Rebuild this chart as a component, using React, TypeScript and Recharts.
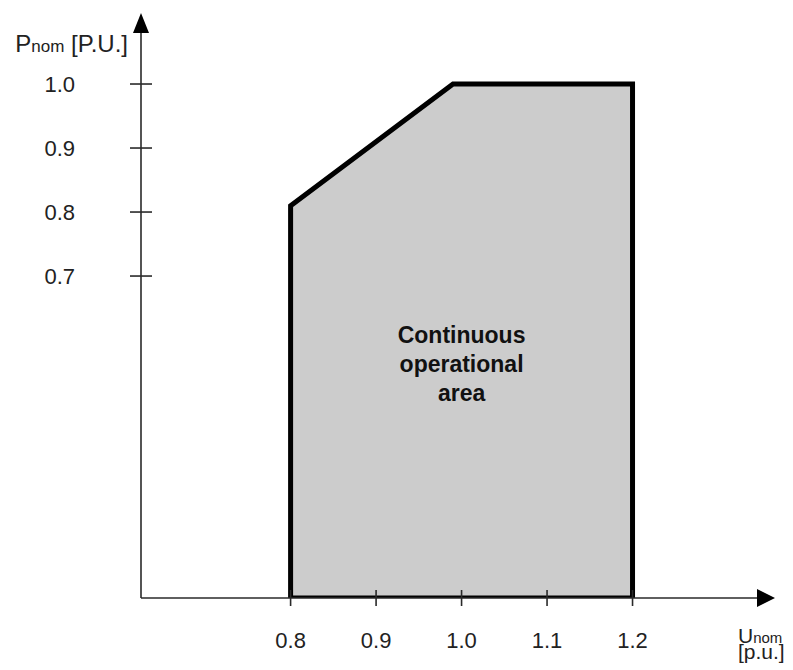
import React from 'react';
import { ComposedChart, Area, Line, XAxis, YAxis, ReferenceDot } from 'recharts';

// Axis ranges (per-unit)
const U_MIN = 0.625;
const U_MAX = 1.3456;
const P_MIN = 0.197;
const P_MAX = 1.0797;

// Tick labels
const uTicks = [0.8, 0.9, 1.0, 1.1, 1.2];
const pTicks = [0.7, 0.8, 0.9, 1.0];

// Boundary of the continuous operational area
const regionU = [0.8, 0.8, 0.99, 1.2, 1.2];
const regionP = [P_MIN, 0.81, 1.0, 1.0, P_MIN];

// Area label
const areaLabelLines = ['Continuous', 'operational', 'area'];
const AREA_LABEL_U = 1.0;
const AREA_LABEL_P = 0.55;

const regionData = regionU.map((u, i) => ({ u, p: regionP[i] }));
const outlineData = [...regionData, regionData[0]];

const FONT = '"Liberation Sans", Arial, Helvetica, sans-serif';
const AXIS_COLOR = '#2a2a2a';

const YTick = (props: any) => {
  const { x, y, payload } = props;
  return (
    <g>
      <line x1={x - 11} x2={x + 11} y1={y} y2={y} stroke={AXIS_COLOR} strokeWidth={1.6} />
      <text x={x - 66} y={y} dy="0.36em" textAnchor="end" fontFamily={FONT} fontSize={22} fill="#222">
        {Number(payload.value).toFixed(1)}
      </text>
    </g>
  );
};

const XTick = (props: any) => {
  const { x, y, payload } = props;
  return (
    <g>
      <line x1={x} x2={x} y1={y - 8} y2={y + 8} stroke={AXIS_COLOR} strokeWidth={1.6} />
      <text x={x} y={y + 42} dy="0.36em" textAnchor="middle" fontFamily={FONT} fontSize={22} fill="#222">
        {Number(payload.value).toFixed(1)}
      </text>
    </g>
  );
};

const YArrow = (props: any) => {
  const { cx, cy } = props;
  return (
    <g>
      <polygon points={`${cx},${cy - 20} ${cx - 8},${cy} ${cx + 8},${cy}`} fill="#000" />
      <text x={cx - 13} y={cy + 19} textAnchor="end" fontFamily={FONT} fill="#222">
        <tspan fontSize={24}>P</tspan>
        <tspan fontSize={17}>nom</tspan>
        <tspan fontSize={24}> [P.U.]</tspan>
      </text>
    </g>
  );
};

const XArrow = (props: any) => {
  const { cx, cy } = props;
  return (
    <g>
      <polygon points={`${cx + 18},${cy} ${cx},${cy - 9} ${cx},${cy + 9}`} fill="#000" />
      <text x={cx - 19} y={cy + 45} fontFamily={FONT} fill="#222">
        <tspan fontSize={21}>U</tspan>
        <tspan fontSize={15}>nom</tspan>
      </text>
      <text x={cx - 19} y={cy + 61} fontFamily={FONT} fontSize={21} fill="#222">
        [p.u.]
      </text>
    </g>
  );
};

const AreaLabel = (props: any) => {
  const { cx, cy } = props;
  return (
    <text textAnchor="middle" fontFamily={FONT} fontWeight="bold" fontSize={23} fill="#111">
      {areaLabelLines.map((line, i) => (
        <tspan key={line} x={cx} y={cy + (i - 1) * 29}>
          {line}
        </tspan>
      ))}
    </text>
  );
};

export default function App() {
  return (
    <div style={{ position: 'absolute', left: 0, top: 0, width: 793, height: 670, background: '#fff' }}>
      <ComposedChart
        width={793}
        height={670}
        margin={{ top: 33, right: 36, bottom: 32, left: 81 }}
      >
        <XAxis
          dataKey="u"
          type="number"
          domain={[U_MIN, U_MAX]}
          allowDataOverflow
          ticks={uTicks}
          tick={<XTick />}
          tickLine={false}
          tickSize={0}
          tickMargin={0}
          height={40}
          axisLine={{ stroke: AXIS_COLOR, strokeWidth: 1.6 }}
          interval={0}
        />
        <YAxis
          type="number"
          domain={[P_MIN, P_MAX]}
          allowDataOverflow
          ticks={pTicks}
          tick={<YTick />}
          tickLine={false}
          tickSize={0}
          tickMargin={0}
          width={60}
          axisLine={{ stroke: AXIS_COLOR, strokeWidth: 1.6 }}
          interval={0}
        />
        <Area
          data={regionData}
          dataKey="p"
          type="linear"
          baseValue={P_MIN}
          fill="#cccccc"
          fillOpacity={1}
          stroke="none"
          dot={false}
          activeDot={false}
          isAnimationActive={false}
        />
        <Line
          data={outlineData}
          dataKey="p"
          type="linear"
          stroke="#000"
          strokeWidth={5}
          strokeLinecap="square"
          dot={false}
          activeDot={false}
          isAnimationActive={false}
        />
        <ReferenceDot x={AREA_LABEL_U} y={AREA_LABEL_P} r={0} ifOverflow="visible" shape={<AreaLabel />} />
        <ReferenceDot x={U_MIN} y={P_MAX} r={0} ifOverflow="visible" shape={<YArrow />} />
        <ReferenceDot x={U_MAX} y={P_MIN} r={0} ifOverflow="visible" shape={<XArrow />} />
      </ComposedChart>
    </div>
  );
}
